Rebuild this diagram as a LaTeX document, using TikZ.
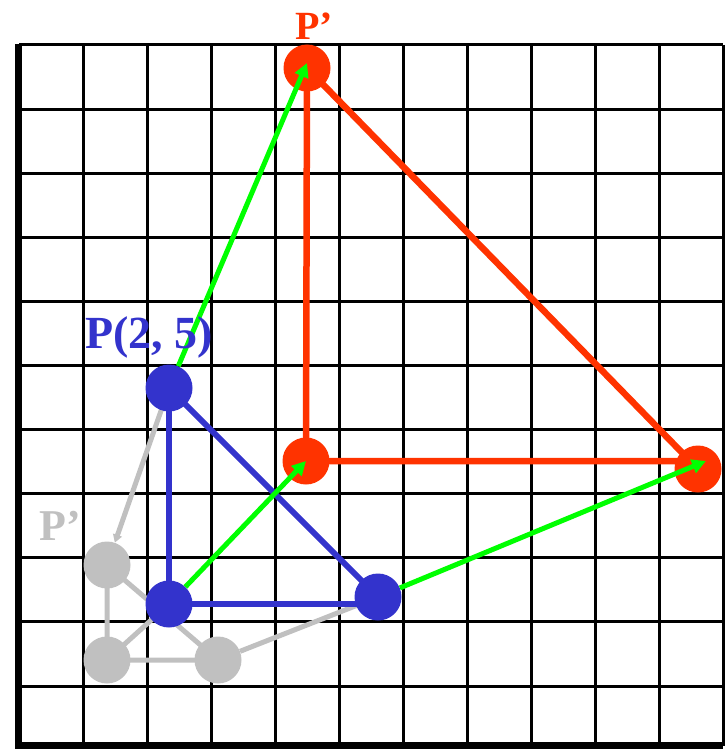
\documentclass[tikz,border=0pt]{standalone}
\usepackage{fontspec}
\setmainfont{Liberation Serif}
\usepackage{tikz}
\usetikzlibrary{arrows.meta, calc}
\definecolor{pointred}{RGB}{255, 51, 0}
\definecolor{pointblue}{RGB}{51, 51, 204}
\definecolor{movegreen}{RGB}{0, 255, 0}
\definecolor{ghostgray}{RGB}{192, 192, 192}

\begin{document}
\begin{tikzpicture}[x=1pt, y=-1pt,
    gridline/.style={draw=black, line width=3pt},
    axisline/.style={draw=black, line width=6.5pt},
    dot/.style={circle, inner sep=0pt, minimum size=47pt},
    blueedge/.style={draw=pointblue, line width=6pt},
    rededge/.style={draw=pointred, line width=6.5pt},
    grayedge/.style={draw=ghostgray, line width=5pt},
    grayarrow/.style={draw=ghostgray, line width=5pt, -{Triangle[length=8pt, width=9pt]}},
    movearrow/.style={draw=movegreen, line width=5pt, -{Triangle[length=14pt, width=14pt]}},
    ptlabel/.style={anchor=base, inner sep=0pt, font=\bfseries}]
    \useasboundingbox (0,0) rectangle (726,749);

    % grid
    \foreach \i in {1,...,11}
        \draw[gridline] ({19+64*\i},45) -- ({19+64*\i},746);
    \foreach \j in {0,...,10}
        \draw[gridline] (19,{45+64.1*\j}) -- (723,{45+64.1*\j});
    \draw[axisline] (18.5,44) -- (18.5,745.5) -- (723,745.5);

    % points
    \coordinate (Pg) at (107,565);
    \coordinate (Ag) at (107,660);
    \coordinate (Bg) at (218,660);
    \coordinate (Pb) at (169,388);
    \coordinate (Ab) at (169,604);
    \coordinate (Bb) at (378,597);
    \coordinate (Pr) at (307,68);
    \coordinate (Ar) at (306,461);
    \coordinate (Br) at (698,469);

    % old triangle
    \node[dot, fill=ghostgray] (gP) at (Pg) {};
    \node[dot, fill=ghostgray] (gA) at (Ag) {};
    \node[dot, fill=ghostgray] (gB) at (Bg) {};
    \draw[grayedge] (gP.center) -- (gA.center) -- (gB.center) -- cycle;
    \draw[grayarrow] (Pb) -- (gP);
    \draw[grayarrow] (gA.center) -- (Ab);
    \draw[grayarrow] (gB) -- (Bb);

    % P(2, 5) triangle
    \draw[blueedge] (Pb) -- (Ab) -- (Ab -| Bb);
    \draw[blueedge] (Pb) -- (Bb);
    \node[dot, fill=pointblue] (bP) at (Pb) {};
    \node[dot, fill=pointblue] (bA) at (Ab) {};
    \node[dot, fill=pointblue] (bB) at (Bb) {};

    % P' triangle
    \draw[rededge] (Pr) -- (Ar) -- (Ar -| Br);
    \draw[rededge] (Pr) -- (Br);
    \node[dot, fill=pointred] (rP) at (Pr) {};
    \node[dot, fill=pointred] (rA) at (Ar) {};
    \node[dot, fill=pointred] (rB) at (Br) {};

    \draw[movearrow] (bP) -- ($(rP.center)+(0,-5)$);
    \draw[movearrow] (bA) -- (rA.center);
    \draw[movearrow] (bB) -- ($(rB.center)+(8,-8)$);

    \node[ptlabel, text=pointblue, font=\fontsize{46}{46}\selectfont\bfseries] (lblP) at (149,348) {P(2, 5)};
    \node[ptlabel, text=pointred, font=\fontsize{40}{40}\selectfont\bfseries] (lblPr) at (314,40) {P’};
    \node[ptlabel, text=ghostgray, font=\fontsize{44}{44}\selectfont\bfseries] (lblPg) at (60,540) {P’};
\end{tikzpicture}
\end{document}
